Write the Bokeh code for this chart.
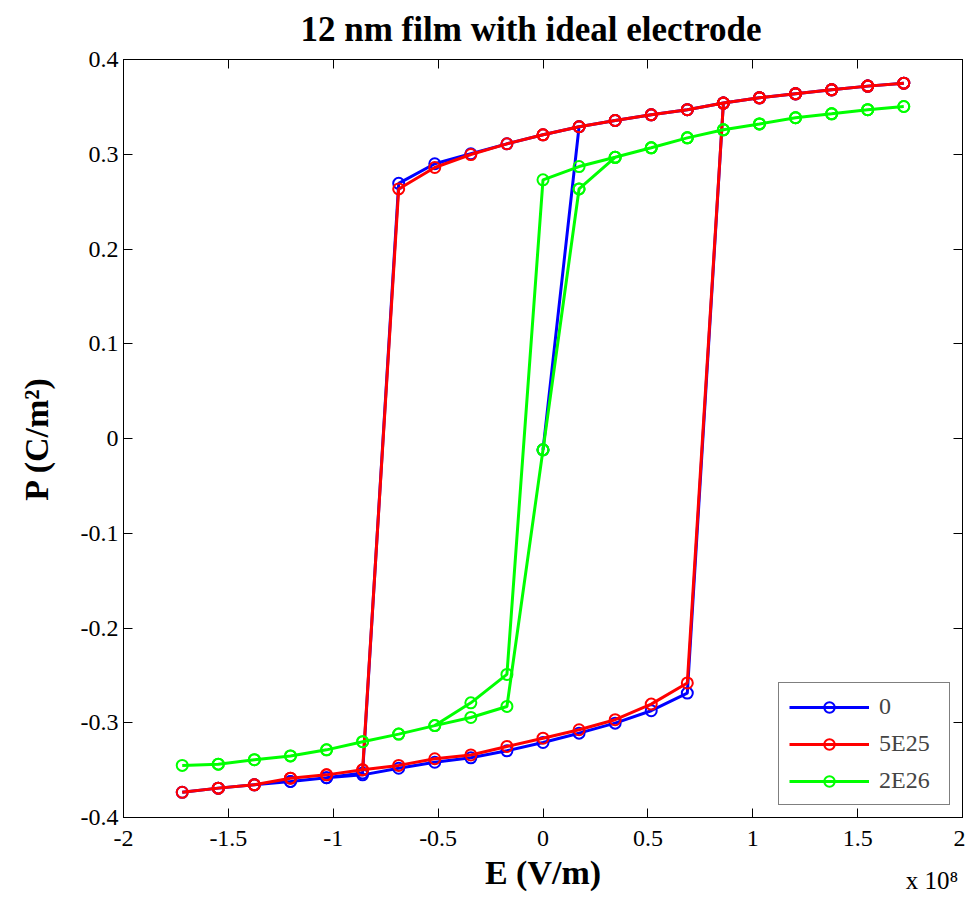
from bokeh.plotting import figure
from bokeh.models import LinearAxis, FixedTicker, Range1d
from bokeh.embed import file_html
from bokeh.resources import INLINE

# ---------------- data (E in units of 1e8 V/m, P in C/m^2) ----------------
e_virgin = [0.0, 0.172, 0.344, 0.516, 0.688, 0.86, 1.032, 1.204, 1.376, 1.548, 1.72]
e_down = [1.548, 1.376, 1.204, 1.032, 0.86, 0.688, 0.516, 0.344, 0.172, 0.0,
          -0.172, -0.344, -0.516, -0.688, -0.86, -1.032, -1.204, -1.376, -1.548, -1.72]
e_up = [-1.548, -1.376, -1.204, -1.032, -0.86, -0.688, -0.516, -0.344, -0.172, 0.0,
        0.172, 0.344, 0.516, 0.688, 0.86, 1.032, 1.204, 1.376, 1.548, 1.72]

# series "0"
p0_virgin = [-0.012, 0.329, 0.3356, 0.3416, 0.347, 0.354, 0.3596, 0.3638, 0.368, 0.3719, 0.375]
p0_down = [0.3719, 0.368, 0.3638, 0.3596, 0.354, 0.347, 0.3416, 0.3356, 0.329, 0.3205,
           0.311, 0.3005, 0.290, 0.2693, -0.353, -0.358, -0.362, -0.3655, -0.369, -0.3734]
p0_up = [-0.369, -0.3655, -0.362, -0.358, -0.355, -0.348, -0.3417, -0.337, -0.3296, -0.3208,
         -0.311, -0.3004, -0.2873, -0.2687, 0.354, 0.3596, 0.3638, 0.368, 0.3719, 0.375]

# series "5E25"
e1_start = [0.0, 0.172, 0.344, 0.516, 0.688, 0.86, 1.032, 1.204, 1.376, 1.548, 1.72]
p1_start = [0.3205, 0.329, 0.3356, 0.3416, 0.347, 0.354, 0.3596, 0.3638, 0.368, 0.3719, 0.375]
p1_down = [0.3719, 0.368, 0.3638, 0.3596, 0.354, 0.347, 0.3416, 0.3356, 0.329, 0.3205,
           0.311, 0.2997, 0.286, 0.2634, -0.3497, -0.355, -0.3585, -0.3655, -0.369, -0.3734]
p1_up = [-0.369, -0.3655, -0.3585, -0.355, -0.3497, -0.345, -0.338, -0.334, -0.325, -0.3163,
         -0.3074, -0.2968, -0.2803, -0.258, 0.354, 0.3596, 0.3638, 0.368, 0.3719, 0.375]

# series "2E26"
p2_virgin = [-0.012, 0.2634, 0.2968, 0.3068, 0.3173, 0.3258, 0.332, 0.3385, 0.3427, 0.347, 0.3504]
p2_down = [0.347, 0.3427, 0.3385, 0.332, 0.3258, 0.3173, 0.3068, 0.2968, 0.287, 0.273,
           -0.249, -0.279, -0.303, -0.312, -0.32, -0.3286, -0.335, -0.339, -0.3437, -0.345]
p2_up = [-0.3437, -0.339, -0.335, -0.3286, -0.32, -0.312, -0.303, -0.2944, -0.2828, -0.012,
         0.2634, 0.2968, 0.3068, 0.3173, 0.3258, 0.332, 0.3385, 0.3427, 0.347, 0.3504]

series_names = ["0", "5E25", "2E26"]
series_colors = ["#0000ff", "#ff0000", "#00ff00"]

x_ticks = [-2, -1.5, -1, -0.5, 0, 0.5, 1, 1.5, 2]
x_tick_labels = ["-2", "-1.5", "-1", "-0.5", "0", "0.5", "1", "1.5", "2"]
y_ticks = [-0.4, -0.3, -0.2, -0.1, 0, 0.1, 0.2, 0.3, 0.4]
y_tick_labels = ["-0.4", "-0.3", "-0.2", "-0.1", "0", "0.1", "0.2", "0.3", "0.4"]

# multiplier note under the right end of the x axis
scale_note = "x 10⁸"
scale_note_at = 1.855

series_e = [e_virgin + e_down + e_up, e1_start + e_down + e_up, e_virgin + e_down + e_up]
series_p = [p0_virgin + p0_down + p0_up, p1_start + p1_down + p1_up, p2_virgin + p2_down + p2_up]

FONT = "Liberation Serif"

p = figure(width=965, height=898,
           x_range=Range1d(-2, 2), y_range=Range1d(-0.4, 0.4),
           output_backend="svg", toolbar_location=None,
           min_border_left=123, min_border_right=3, min_border_top=59, min_border_bottom=81,
           title="12 nm film with ideal electrode")

p.title.text_font = FONT
p.title.text_font_size = "35px"
p.title.text_font_style = "bold"
p.title.text_color = "black"
p.title.align = "left"
p.title.offset = 177
p.title.vertical_align = "top"
p.title.standoff = 18

p.grid.visible = False
p.background_fill_color = "white"
p.border_fill_color = "white"
p.outline_line_color = "black"
p.outline_line_width = 1

for ax in (p.xaxis[0], p.yaxis[0]):
    ax.major_tick_in = 9
    ax.major_tick_out = 0
    ax.minor_tick_in = 0
    ax.minor_tick_out = 0
    ax.axis_line_color = "black"
    ax.major_tick_line_color = "black"
    ax.major_label_text_font = FONT
    ax.major_label_text_font_size = "24px"
    ax.major_label_text_color = "black"
    ax.axis_label_text_font = FONT
    ax.axis_label_text_font_size = "34px"
    ax.axis_label_text_font_style = "bold"
    ax.axis_label_text_color = "black"

p.xaxis[0].ticker = FixedTicker(ticks=x_ticks)
p.xaxis[0].major_label_overrides = {t: l for t, l in zip(x_ticks, x_tick_labels)}
p.xaxis[0].major_label_standoff = 13
p.xaxis[0].axis_label = "E (V/m)"
p.xaxis[0].axis_label_standoff = 5

p.yaxis[0].ticker = FixedTicker(ticks=y_ticks)
p.yaxis[0].major_label_overrides = {t: l for t, l in zip(y_ticks, y_tick_labels)}
p.yaxis[0].major_label_standoff = 5
p.yaxis[0].axis_label = "P (C/m²)"
p.yaxis[0].axis_label_standoff = 23

top_axis = LinearAxis(ticker=FixedTicker(ticks=x_ticks),
                      major_label_overrides={t: "" for t in x_ticks},
                      major_tick_in=9, major_tick_out=0, minor_tick_in=0, minor_tick_out=0,
                      major_label_standoff=0, axis_line_color="black")
right_axis = LinearAxis(ticker=FixedTicker(ticks=y_ticks),
                        major_label_overrides={t: "" for t in y_ticks},
                        major_tick_in=9, major_tick_out=0, minor_tick_in=0, minor_tick_out=0,
                        major_label_standoff=0, axis_line_color="black")
p.add_layout(top_axis, "above")
p.add_layout(right_axis, "right")

# an extra, line-less axis below that only carries the "x 10^8" note;
# its negative standoff pulls the note up beside the axis title
note_axis = LinearAxis(ticker=FixedTicker(ticks=[scale_note_at]),
                       major_label_overrides={scale_note_at: scale_note},
                       axis_line_color=None, major_tick_line_color=None,
                       minor_tick_line_color=None, major_tick_in=0, major_tick_out=0,
                       minor_tick_in=0, minor_tick_out=0,
                       major_label_standoff=-27,
                       major_label_text_font=FONT, major_label_text_font_size="25px",
                       major_label_text_color="black")
p.add_layout(note_axis, "below")

for name, color, ex, py in zip(series_names, series_colors, series_e, series_p):
    p.line(ex, py, line_color=color, line_width=3, legend_label=name)
    p.scatter(ex, py, marker="circle", size=11, fill_color=None,
              line_color=color, line_width=2, legend_label=name)

lg = p.legend[0]
lg.location = "bottom_right"
lg.margin = 12
lg.padding = 10
lg.spacing = 10
lg.glyph_width = 80
lg.glyph_height = 26
lg.label_standoff = 10
lg.label_width = 60
lg.label_text_font = FONT
lg.label_text_font_size = "24px"
lg.border_line_color = "black"
lg.border_line_width = 1
lg.background_fill_color = "white"
lg.background_fill_alpha = 1.0

open("out.html", "w").write(file_html(p, INLINE))
